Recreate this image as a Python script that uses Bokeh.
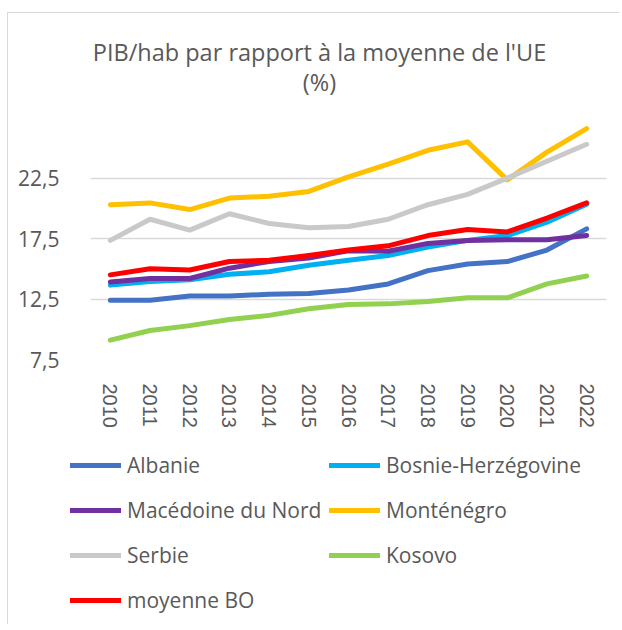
from bokeh.plotting import figure
from bokeh.models import Range1d, FixedTicker, Legend, LegendItem, Label
from bokeh.embed import file_html
from bokeh.resources import INLINE

# ---- data ----
years = [2010, 2011, 2012, 2013, 2014, 2015, 2016, 2017, 2018, 2019, 2020, 2021, 2022]
year_labels = ["2010", "2011", "2012", "2013", "2014", "2015", "2016",
               "2017", "2018", "2019", "2020", "2021", "2022"]
y_ticks = [7.5, 12.5, 17.5, 22.5]
y_tick_labels = ["7,5", "12,5", "17,5", "22,5"]

albanie = [12.4, 12.4, 12.75, 12.75, 12.9, 12.95, 13.25, 13.75, 14.85, 15.4, 15.6, 16.55, 18.3]
bosnie = [13.65, 13.95, 14.1, 14.55, 14.75, 15.3, 15.7, 16.1, 16.8, 17.35, 17.75, 18.85, 20.35]
macedoine = [13.9, 14.2, 14.2, 15.05, 15.6, 15.9, 16.5, 16.45, 17.1, 17.35, 17.4, 17.4, 17.75]
montenegro = [20.3, 20.45, 19.9, 20.85, 21.0, 21.4, 22.6, 23.65, 24.8, 25.5, 22.35, 24.65, 26.6]
serbie = [17.35, 19.1, 18.2, 19.55, 18.75, 18.4, 18.5, 19.1, 20.3, 21.15, 22.5, 23.9, 25.3]
kosovo = [9.1, 9.9, 10.3, 10.8, 11.15, 11.7, 12.05, 12.1, 12.3, 12.6, 12.6, 13.75, 14.4]
moyenne = [14.5, 15.0, 14.9, 15.6, 15.7, 16.1, 16.55, 16.9, 17.75, 18.25, 18.05, 19.2, 20.45]

series_names = ["Albanie", "Bosnie-Herzégovine", "Macédoine du Nord", "Monténégro",
                "Serbie", "Kosovo", "moyenne BO"]
series_values = [albanie, bosnie, macedoine, montenegro, serbie, kosovo, moyenne]
series_colors = ["#4472C4", "#00B0F0", "#7030A0", "#FFC000", "#C9C9C9", "#92D050", "#FF0000"]

title_line1 = "PIB/hab par rapport à la moyenne de l'UE"
title_line2 = "(%)"

TEXT = "#595959"
FONT = "Open Sans"
PX_PER_UNIT = 12.2          # vertical scale of the plot area
FRAME_H = 341               # frame height (room for the title at the top)

# ---- chart ----
p = figure(width=612, height=417, output_backend="svg", toolbar_location=None,
           x_range=Range1d(2009.5, 2022.5),
           y_range=Range1d(7.5, 7.5 + FRAME_H / PX_PER_UNIT),
           min_border_left=82, min_border_right=14, min_border_top=8, min_border_bottom=68,
           title=None,
           styles={"margin-left": "7px", "margin-top": "12px",
                   "border-left": "1px solid #d9d9d9", "border-top": "1px solid #d9d9d9"})
p.outline_line_color = None
p.background_fill_color = "white"
p.border_fill_color = "white"

p.xaxis.ticker = FixedTicker(ticks=years)
p.xaxis.major_label_overrides = {y: l for y, l in zip(years, year_labels)}
p.xaxis.major_label_orientation = "vertical"
p.xaxis.axis_line_color = None
p.xaxis.major_tick_line_color = None
p.xaxis.minor_tick_line_color = None
p.xaxis.major_label_standoff = 18
p.xaxis.major_label_text_font = "Liberation Sans"
p.xaxis.major_label_text_font_size = "20px"
p.xaxis.major_label_text_color = TEXT

p.yaxis.ticker = FixedTicker(ticks=y_ticks)
p.yaxis.major_label_overrides = {t: l for t, l in zip(y_ticks, y_tick_labels)}
p.yaxis.axis_line_color = None
p.yaxis.major_tick_line_color = None
p.yaxis.minor_tick_line_color = None
p.yaxis.major_label_standoff = 25
p.yaxis.major_label_text_font = FONT
p.yaxis.major_label_text_font_size = "21px"
p.yaxis.major_label_text_color = TEXT

p.xgrid.grid_line_color = None
p.ygrid.ticker = FixedTicker(ticks=y_ticks)
p.ygrid.grid_line_color = "#D9D9D9"
p.ygrid.grid_line_width = 1.5

for name, vals, col in zip(series_names, series_values, series_colors):
    p.line(years, vals, line_color=col, line_width=5, line_cap="round", line_join="round")

# title, two centred lines in the empty top of the plot area
for txt, yy in [(title_line1, 308), (title_line2, 278)]:
    p.add_layout(Label(x=229, y=yy, x_units="screen", y_units="screen", text=txt,
                       text_align="center", text_baseline="alphabetic",
                       text_font=FONT, text_font_size="23.5px", text_color=TEXT))

# ---- legend panel ----
q = figure(width=612, height=195, output_backend="svg", toolbar_location=None,
           x_range=Range1d(0, 1), y_range=Range1d(0, 1),
           x_axis_location=None, y_axis_location=None,
           min_border_left=0, min_border_right=0, min_border_top=0, min_border_bottom=0,
           styles={"margin-left": "7px", "border-left": "1px solid #d9d9d9"})
q.outline_line_color = None
q.grid.grid_line_color = None
q.border_fill_color = "white"

leg_renderers = []
for name, vals, col in zip(series_names, series_values, series_colors):
    r = q.line(years, vals, line_color=col, line_width=5, line_cap="round", line_join="round")
    leg_renderers.append(r)


def make_legend(idx, loc):
    return Legend(items=[LegendItem(label=series_names[i], renderers=[leg_renderers[i]]) for i in idx],
                  location=loc, orientation="vertical",
                  glyph_width=51, glyph_height=28, label_height=28, spacing=17,
                  label_standoff=6, padding=0, margin=0,
                  border_line_color=None, background_fill_alpha=0,
                  label_text_font=FONT, label_text_font_size="21px", label_text_color=TEXT)


q.add_layout(make_legend([0, 2, 4, 6], (62, 10)))
q.add_layout(make_legend([1, 3, 5], (321, 55)))

open("out.html", "w").write(file_html([p, q], INLINE))
